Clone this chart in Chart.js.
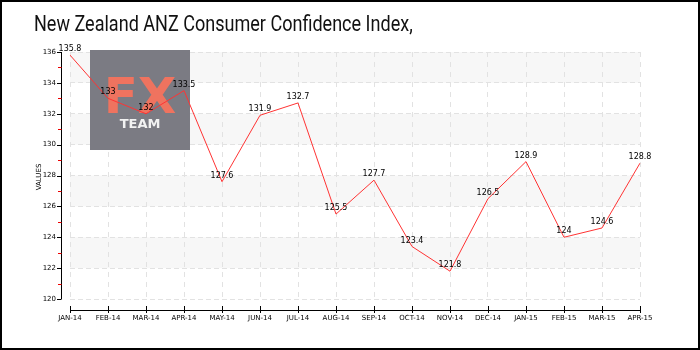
<!DOCTYPE html>
<html><head><meta charset="utf-8">
<script src="https://cdn.jsdelivr.net/npm/chart.js@4"></script>
<style>html,body{margin:0;padding:0;background:#fff}#wrap{width:700px;height:350px}</style>
</head><body><div id="wrap"><canvas id="c" width="700" height="350"></canvas></div>
<script>
const categories = ["JAN-14","FEB-14","MAR-14","APR-14","MAY-14","JUN-14","JUL-14","AUG-14","SEP-14","OCT-14","NOV-14","DEC-14","JAN-15","FEB-15","MAR-15","APR-15"];
const values = [135.8,133,132,133.5,127.6,131.9,132.7,125.5,127.7,123.4,121.8,126.5,128.9,124,124.6,128.8];
const yTicks = [120,122,124,126,128,130,132,134,136];
const titleText = "New Zealand ANZ Consumer Confidence Index,";
const yTitle = "VALUES";

const LABEL_FONT = "8px 'DejaVu Sans'";

const decor = {
  id: 'decor',
  beforeDraw(chart) {
    const ctx = chart.ctx, ca = chart.chartArea, y = chart.scales.y;
    ctx.save();
    ctx.fillStyle = '#fff';
    ctx.fillRect(0,0,chart.width,chart.height);
    ctx.fillStyle = '#f7f7f7';
    for (let i = yTicks.length - 1; i > 0; i -= 2) {
      const t = y.getPixelForValue(yTicks[i]), b = y.getPixelForValue(yTicks[i-1]);
      ctx.fillRect(ca.left, t, ca.right - ca.left, b - t);
    }
    ctx.restore();
  },
  beforeDatasetsDraw(chart) {
    const ctx = chart.ctx;
    ctx.save();
    ctx.fillStyle = '#7b7b83';
    ctx.fillRect(90, 50, 100, 100);
    ctx.textAlign = 'center';
    ctx.fillStyle = '#ef735f';
    ctx.font = "bold 50px 'DejaVu Sans'";
    ctx.fillText('FX', 140, 113);
    ctx.fillStyle = '#f2f2f2';
    ctx.font = "bold 13px 'DejaVu Sans'";
    ctx.fillText('TEAM', 140, 128);
    ctx.restore();
  },
  afterDraw(chart) {
    const ctx = chart.ctx, x = chart.scales.x, y = chart.scales.y;
    ctx.save();
    ctx.strokeStyle = '#000'; ctx.lineWidth = 2;
    ctx.strokeRect(1,1,chart.width-2,chart.height-2);
    // title
    ctx.save();
    ctx.fillStyle = '#111';
    ctx.font = "22px Roboto";
    ctx.textAlign = 'left'; ctx.textBaseline = 'alphabetic';
    ctx.translate(34, 31); ctx.scale(0.82, 1);
    ctx.fillText(titleText, 0, 0);
    ctx.restore();
    // y title
    ctx.save();
    ctx.translate(39, 177); ctx.rotate(-Math.PI/2);
    ctx.fillStyle = '#000';
    ctx.font = "7px 'DejaVu Sans'"; ctx.textAlign='center'; ctx.textBaseline='middle';
    ctx.fillText(yTitle, 0, 0);
    ctx.restore();
    // y axis line
    ctx.lineWidth = 1; ctx.strokeStyle = '#000';
    const ax = 61.5;
    ctx.beginPath();
    ctx.moveTo(ax, y.getPixelForValue(136)); ctx.lineTo(ax, y.getPixelForValue(120));
    yTicks.forEach(v => { const p = Math.round(y.getPixelForValue(v)) + 0.5; ctx.moveTo(57, p); ctx.lineTo(ax, p); });
    ctx.stroke();
    ctx.strokeStyle = '#e00';
    ctx.beginPath();
    for (let i = 0; i < yTicks.length - 1; i++) {
      const p = Math.round(y.getPixelForValue((yTicks[i]+yTicks[i+1])/2)) + 0.5;
      ctx.moveTo(58, p); ctx.lineTo(ax, p);
    }
    ctx.stroke();
    // x axis line
    ctx.strokeStyle = '#000';
    const ay = 310.5;
    ctx.beginPath();
    ctx.moveTo(x.getPixelForValue(0), ay); ctx.lineTo(x.getPixelForValue(categories.length-1), ay);
    categories.forEach((c,i) => { const p = Math.round(x.getPixelForValue(i)) + 0.5; ctx.moveTo(p, 306); ctx.lineTo(p, 313); });
    ctx.stroke();
    // data labels
    const meta = chart.getDatasetMeta(0);
    ctx.fillStyle = '#000'; ctx.font = LABEL_FONT; ctx.textAlign = 'center'; ctx.textBaseline = 'bottom';
    meta.data.forEach((pt, i) => ctx.fillText(String(values[i]), pt.x, pt.y - 2));
    ctx.restore();
  }
};

new Chart(document.getElementById('c'), {
  type: 'line',
  data: { labels: categories, datasets: [{ data: values, borderColor: '#ff3333', borderWidth: 1, pointRadius: 0, tension: 0, fill: false }] },
  options: {
    responsive: false, animation: false,
    layout: { padding: { left: 0, top: 52, right: 60, bottom: 0 } },
    plugins: { legend: { display: false }, tooltip: { enabled: false } },
    scales: {
      x: {
        offset: false,
        afterFit(s) { s.height = 51; },
        grid: { color: '#e2e2e2', drawTicks: false },
        border: { display: false, dash: [5,5] },
        ticks: { color: '#000', font: { family: 'DejaVu Sans', size: 7 }, padding: 15, maxRotation: 0, autoSkip: false }
      },
      y: {
        min: 120, max: 136,
        afterFit(s) { s.width = 70; },
        afterBuildTicks(s) { s.ticks = yTicks.map(v => ({ value: v })); },
        grid: { color: '#e2e2e2', drawTicks: false },
        border: { display: false, dash: [5,3] },
        ticks: { color: '#000', font: { family: 'DejaVu Sans', size: 7 }, padding: 14 }
      }
    }
  },
  plugins: [decor]
});
</script>
</body></html>
